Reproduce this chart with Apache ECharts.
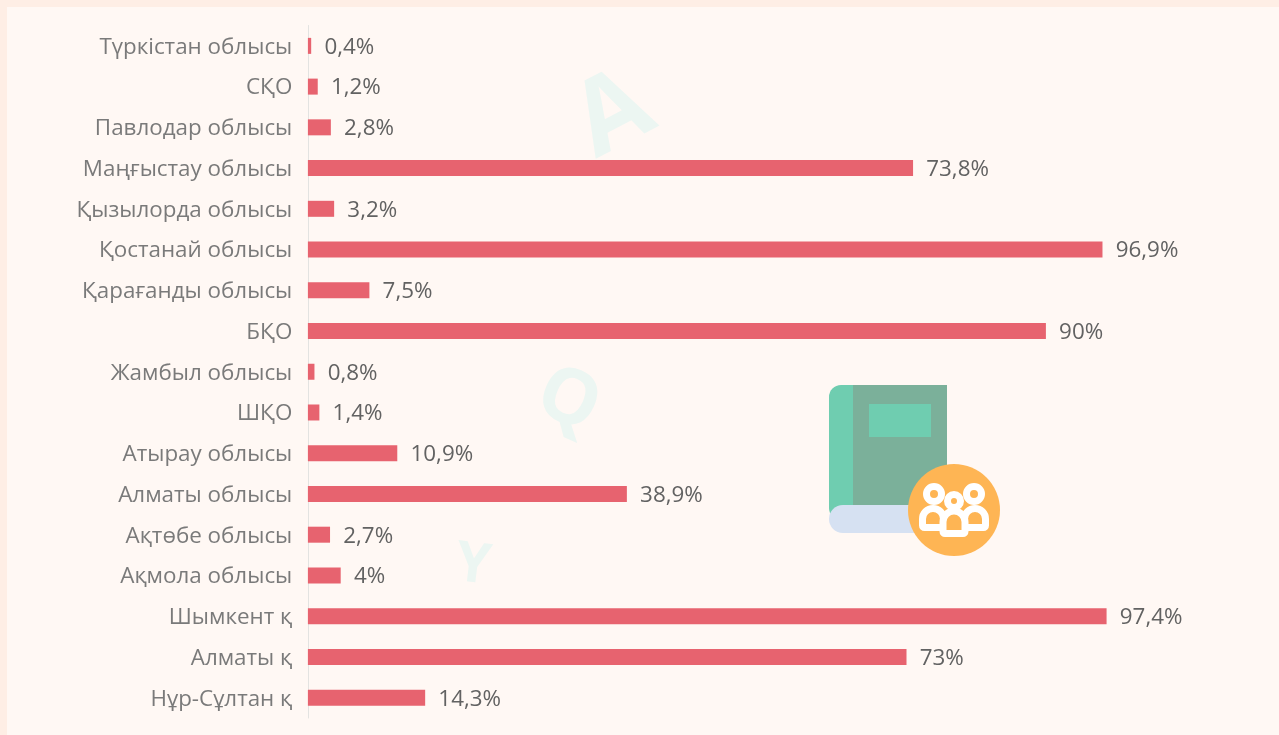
<!DOCTYPE html>
<html><head><meta charset="utf-8">
<style>html,body{margin:0;padding:0;background:#feeee5}#c{width:1279px;height:735px}</style>
<script src="https://cdn.jsdelivr.net/npm/echarts@6/dist/echarts.min.js"></script>
</head><body><div id="c"></div>
<script>
const categories = ["Түркістан облысы","СҚО","Павлодар облысы","Маңғыстау облысы","Қызылорда облысы","Қостанай облысы","Қарағанды облысы","БҚО","Жамбыл облысы","ШҚО","Атырау облысы","Алматы облысы","Ақтөбе облысы","Ақмола облысы","Шымкент қ","Алматы қ","Нұр-Сұлтан қ"];
const values = [0.4,1.2,2.8,73.8,3.2,96.9,7.5,90,0.8,1.4,10.9,38.9,2.7,4,97.4,73,14.3];
const FONT = '"Open Sans"';
const chart = echarts.init(document.getElementById('c'), null, {renderer:'canvas'});
const wm = (t,x,y,r,s)=>({type:'text',z:0,x,y,rotation:r,style:{text:t,fill:'#ecf6f2',font:'bold '+s+'px "Open Sans"',textAlign:'center',textVerticalAlign:'middle'}});
const O='#feb554', W='#fff';
const body=(x,y,w,h,z)=>({type:'rect',z,shape:{x,y,width:w,height:h,r:[11,11,2,2]},style:{fill:O,stroke:W,lineWidth:7}});
const head=(cx,cy,r,z)=>({type:'circle',z,shape:{cx,cy,r},style:{fill:O,stroke:W,lineWidth:7}});
chart.setOption({
  animation:false,
  backgroundColor:'#feeee5',
  grid:{left:307.9,top:25.5,width:820,height:692.5,containLabel:false},
  xAxis:{type:'value',min:0,max:100,show:false},
  yAxis:{type:'category',inverse:true,data:categories,offset:1,
    axisLine:{show:true,lineStyle:{color:'#e3e3e1',width:1}},axisTick:{show:false},
    axisLabel:{margin:14.6,formatter:v=>'{a|'+v+'}',
      rich:{a:{color:'#7a7a7a',fontFamily:FONT,fontSize:22.4,padding:[3,0,0,0]}}}},
  series:[{type:'bar',data:values,barWidth:16,z:3,
    itemStyle:{color:'#e7636f'},
    label:{show:true,position:'right',distance:13.2,offset:[0,1.5],color:'#626262',fontFamily:FONT,fontSize:22.4,
      formatter:p=>String(p.value).replace('.',',')+'%'}}],
  graphic:[
    {type:'rect',z:-1,silent:true,shape:{x:7,y:7,width:1272,height:728},style:{fill:'#fff8f4'}},
    wm('A',614,116,0.48,104),
    wm('Q',568,401,-0.42,76),
    wm('Y',473,566,-0.12,56),
    {type:'rect',z:1,shape:{x:829,y:385,width:60,height:135,r:[12,0,0,12]},style:{fill:'#6fcdb0'}},
    {type:'rect',z:1,shape:{x:853,y:385,width:94,height:125},style:{fill:'#7bb09a'}},
    {type:'rect',z:1,shape:{x:869,y:404,width:62,height:33},style:{fill:'#6fcdb0'}},
    {type:'rect',z:1,shape:{x:829,y:505,width:110,height:28,r:14},style:{fill:'#d6e1f2'}},
    {type:'circle',z:2,shape:{cx:954,cy:510,r:46},style:{fill:O}},
    body(922.5,508.5,21,19,3), body(964.5,508.5,21,19,3),
    head(934,494,7.5,4), head(974,494,7.5,4),
    body(943,511,22,22.5,5),
    head(954,501,6.5,6)
  ]
});
</script></body></html>
